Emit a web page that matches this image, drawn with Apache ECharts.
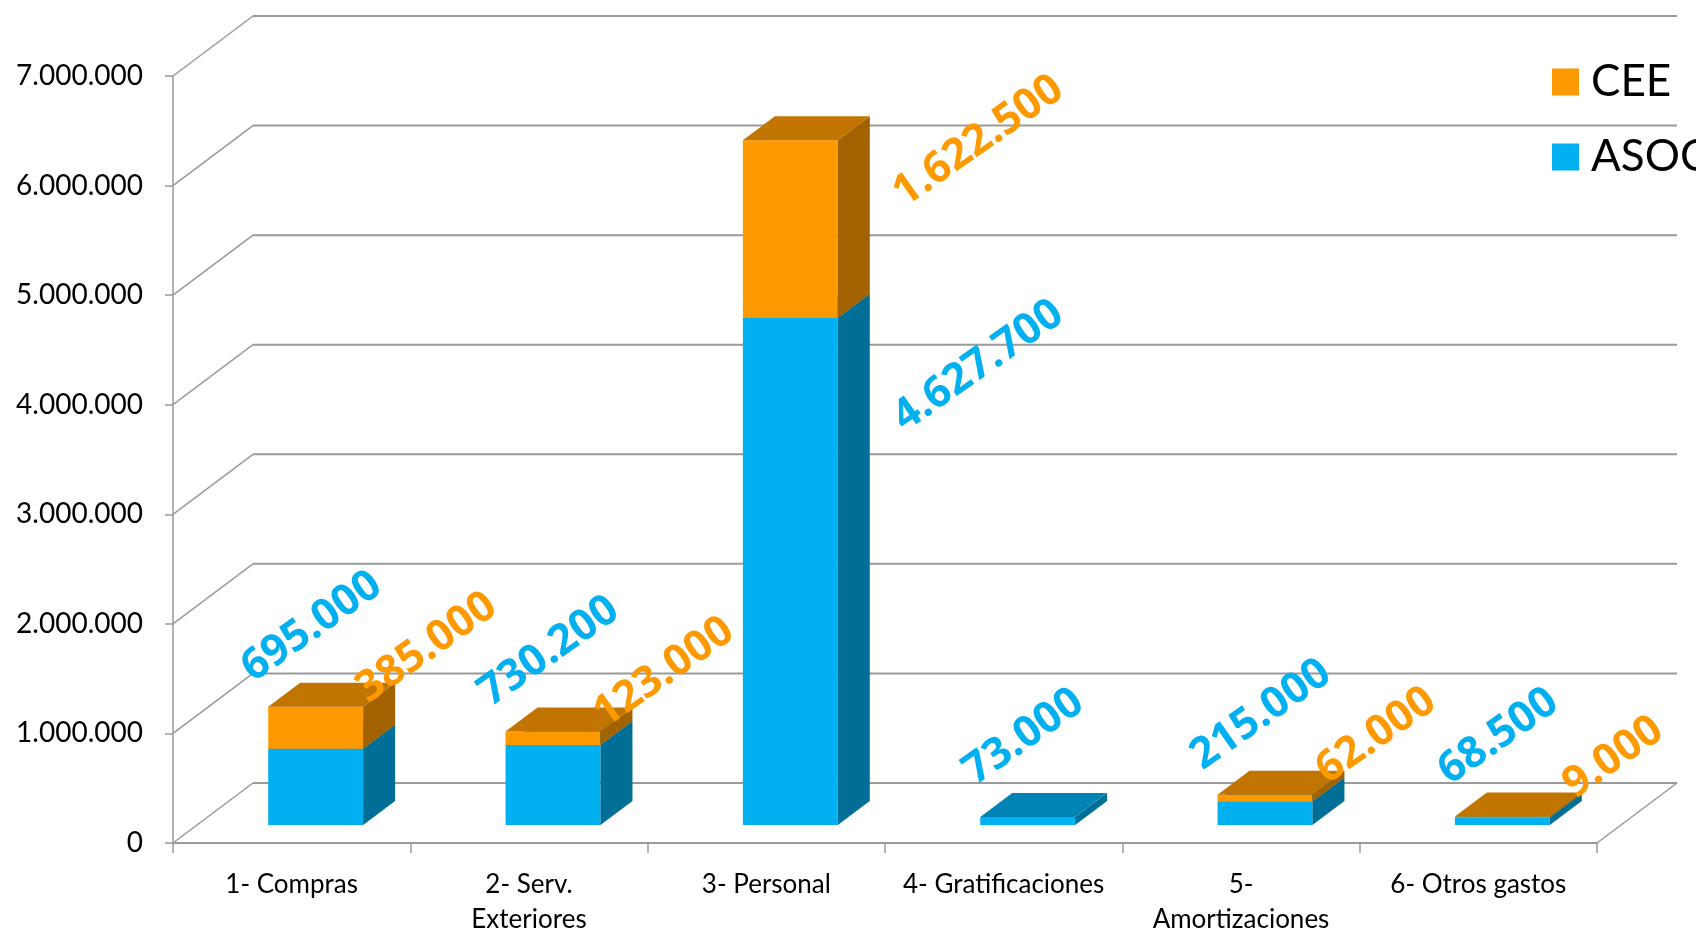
<!DOCTYPE html>
<html>
<head>
<meta charset="utf-8">
<title>Gastos CEE / ASOC</title>
<script src="https://cdn.jsdelivr.net/npm/echarts@6/dist/echarts.min.js"></script>
<style>
  html, body { margin: 0; padding: 0; background: #fff; }
  #chart { width: 1696px; height: 937px; }
</style>
</head>
<body>
<div id="chart"></div>
<script>
// categorias del eje X
var categories = ['1- Compras', '2- Serv.\nExteriores', '3- Personal', '4- Gratificaciones', '5-\nAmortizaciones', '6- Otros gastos']
// valores por serie
var asoc = [695000, 730200, 4627700, 73000, 215000, 68500]
var cee = [385000, 123000, 1622500, null, 62000, 9000]
// marcas del eje Y
var yTicks = [0, 1000000, 2000000, 3000000, 4000000, 5000000, 6000000, 7000000]

// efecto 3D: desplazamiento de la pared del fondo (px)
var DX = 80
var DY = 60
var FRONT = 0.3
var BACK = 0.7
var ANGLE = 35 * Math.PI / 180

var blue = {front: '#00B0F0', side: '#006F98', top: '#0084B6'}
var orange = {front: '#FF9900', side: '#A36200', top: '#C27400'}
var gridColor = '#9a9a9a'
var font = 'Lato, "Open Sans", sans-serif'
var labelFont = '"Open Sans", "Noto Sans", sans-serif'

function fmt (v) {
  return String(v).replace(/\B(?=(\d{3})+(?!\d))/g, '.')
}

// paredes y suelo en perspectiva
function renderWall (params, api) {
  var cs = params.coordSys
  var v = api.value(1)
  var y = api.coord([0, v])[1]
  var x0 = cs.x
  var x1 = cs.x + cs.width
  var children = [
    {
      type: 'line',
      shape: {x1: x0, y1: y, x2: x0 + DX, y2: y - DY},
      style: {stroke: gridColor, lineWidth: 1.5}
    },
    {
      type: 'line',
      shape: {x1: x0 + DX, y1: y - DY, x2: x1 + DX, y2: y - DY},
      style: {stroke: gridColor, lineWidth: 2}
    }
  ]
  if (v === 0) {
    children.push({
      type: 'line',
      shape: {x1: x1, y1: y, x2: x1 + DX, y2: y - DY},
      style: {stroke: gridColor, lineWidth: 1.5}
    })
  }
  return {type: 'group', children: children}
}

// barra apilada con caras frontal, lateral y superior
function makeBar (vals, base, col, isCee) {
  return function (params, api) {
    var i = api.value(0)
    var v = vals[i]
    if (v == null) return
    var b = base ? base[i] : 0
    var p0 = api.coord([i, b])
    var p1 = api.coord([i, b + v])
    var w = api.size([1, 0])[0] * 0.4
    var xl = p0[0] - w / 2 + DX * FRONT
    var xr = xl + w
    var yb = p0[1] - DY * FRONT
    var yt = p1[1] - DY * FRONT
    var ddx = DX * (BACK - FRONT)
    var ddy = DY * (BACK - FRONT)

    // posicion de la etiqueta
    var total = asoc[i] + (cee[i] || 0)
    var cx = api.coord([i, 0])[0]
    var yTot = api.coord([i, total])[1]
    var tall = api.coord([i, 0])[1] - yTot > 300
    var lx, ly
    if (isCee) {
      lx = tall ? cx + 212 : cx + 135
      ly = tall ? yTot - 17 : yTot - 77
    } else {
      lx = tall ? cx + 212 : cx + 20
      ly = tall ? api.coord([i, asoc[i]])[1] + 30 : yTot - 98
    }

    return {
      type: 'group',
      children: [
        {type: 'rect', shape: {x: xl, y: yt, width: w, height: yb - yt}, style: {fill: col.front}},
        {type: 'polygon', shape: {points: [[xr, yb], [xr, yt], [xr + ddx, yt - ddy], [xr + ddx, yb - ddy]]}, style: {fill: col.side}},
        {type: 'polygon', shape: {points: [[xl, yt], [xr, yt], [xr + ddx, yt - ddy], [xl + ddx, yt - ddy]]}, style: {fill: col.top}},
        {
          type: 'text',
          x: lx,
          y: ly,
          rotation: ANGLE,
          z2: 10,
          style: {
            text: fmt(v),
            fill: col.front,
            fontSize: 43,
            fontWeight: 'bold',
            fontFamily: labelFont,
            align: 'center',
            verticalAlign: 'middle'
          }
        }
      ]
    }
  }
}

var chart = echarts.init(document.getElementById('chart'))
chart.setOption({
  animation: false,
  grid: {left: 173, right: 99, top: 76, bottom: 88},
  legend: {
    data: ['CEE', 'ASOC'],
    orient: 'vertical',
    left: 1547,
    top: 55,
    itemWidth: 27,
    itemHeight: 27,
    itemGap: 31,
    icon: 'rect',
    textStyle: {fontSize: 44, lineHeight: 44, color: '#000', fontFamily: font, padding: [0, 0, 0, 7]}
  },
  xAxis: {
    type: 'category',
    data: categories,
    axisLine: {lineStyle: {color: gridColor, width: 2}},
    axisTick: {show: true, length: 10, lineStyle: {color: gridColor, width: 1.5}},
    axisLabel: {interval: 0, color: '#000', fontSize: 26, lineHeight: 35, margin: 24, fontFamily: font}
  },
  yAxis: {
    type: 'value',
    min: 0,
    max: 7000000,
    interval: 1000000,
    axisLine: {show: true, lineStyle: {color: gridColor, width: 1.5}},
    axisTick: {show: true, length: 8, lineStyle: {color: gridColor, width: 1.5}},
    splitLine: {show: false},
    axisLabel: {color: '#000', fontSize: 28, margin: 30, fontFamily: font, formatter: fmt}
  },
  series: [
    {
      type: 'custom',
      silent: true,
      z: 1,
      renderItem: renderWall,
      data: yTicks.map(function (v) { return [0, v] })
    },
    {
      name: 'ASOC',
      type: 'custom',
      z: 3,
      itemStyle: {color: blue.front},
      renderItem: makeBar(asoc, null, blue, false),
      encode: {x: 0, y: 1},
      data: asoc.map(function (v, i) { return [i, v] })
    },
    {
      name: 'CEE',
      type: 'custom',
      z: 4,
      itemStyle: {color: orange.front},
      renderItem: makeBar(cee, asoc, orange, true),
      encode: {x: 0, y: 1},
      data: cee.map(function (v, i) { return [i, v == null ? 0 : v] })
    }
  ]
})
</script>
</body>
</html>
